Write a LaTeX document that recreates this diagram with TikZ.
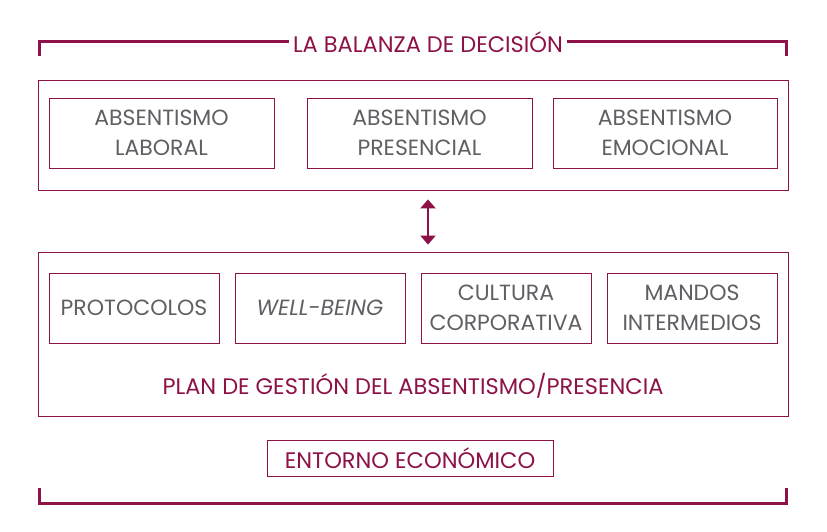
\documentclass[tikz,border=0pt]{standalone}
\usepackage{fontspec}
\setmainfont{Poppins}
\usetikzlibrary{
  arrows.meta,   % Triangle 箭头
  positioning    % 节点相对定位
}
\definecolor{granate}{RGB}{140,18,72}
\definecolor{grisTexto}{RGB}{95,95,100}
\tikzset{
  outer box/.style={
    draw=granate,
    line width=0.8pt,
    inner sep=0pt
  },
  inner box/.style={
    draw=granate,
    line width=0.8pt,
    text=grisTexto,
    align=center,
    font=\fontsize{22}{30}\selectfont,
    minimum height=70pt,
    inner sep=0pt
  },
  title text/.style={
    text=granate,
    font=\fontsize{22.5}{26}\selectfont,
    inner sep=4pt
  },
  bracket/.style={
    draw=granate,
    line width=3pt
  },
  double arrow/.style={
    {Triangle[length=9pt,width=15pt]}-{Triangle[length=9pt,width=15pt]},
    line width=2pt,
    draw=granate
  }
}

\begin{document}
\begin{tikzpicture}[x=1pt, y=-1pt]
    % 画布尺寸与参考图一致
    \useasboundingbox (0,0) rectangle (827,532);

    % --- 上方括号与标题 ---
    \node[title text] (titulo) at (428,42) {LA BALANZA DE DECISIÓN};
    \coordinate (bracketTL) at (39,56);
    \coordinate (bracketTR) at (786,56);
    \draw[bracket] (bracketTL) |- (titulo.west);
    \draw[bracket] (titulo.east) -| (bracketTR);

    % --- 上方大框: 三种缺勤 ---
    \node[outer box, minimum width=750pt, minimum height=110pt] (balanza) at (413,135) {};
    \node[inner box, minimum width=225pt] (laboral) at (161.5,133) {ABSENTISMO\\LABORAL};
    \node[inner box, minimum width=225pt] (presencial) at (419.5,133) {ABSENTISMO\\PRESENCIAL};
    \node[inner box, minimum width=224pt] (emocional) at (665,133) {ABSENTISMO\\EMOCIONAL};

    % --- 下方大框: 管理计划 ---
    \node[outer box, minimum width=750pt, minimum height=164pt] (plan) at (413,334) {};
    \node[inner box, minimum width=170pt] (protocolos) at (134,308) {PROTOCOLOS};
    \node[inner box, minimum width=170pt] (wellbeing) at (320,308) {\itshape WELL-BEING};
    \node[inner box, minimum width=170pt] (cultura) at (506,308) {CULTURA\\CORPORATIVA};
    \node[inner box, minimum width=170pt] (mandos) at (692,308) {MANDOS\\INTERMEDIOS};
    \node[title text, inner sep=0pt] (planTexto) at (413,386) {PLAN DE GESTIÓN DEL ABSENTISMO/PRESENCIA};

    % 双向箭头
    \draw[double arrow, shorten <=9pt, shorten >=7pt] (balanza.south -| 428,0) -- (plan.north -| 428,0);

    % --- 经济环境 ---
    \node[outer box, title text, minimum width=286pt, minimum height=36pt] (entorno) at (410,458) {ENTORNO ECONÓMICO};

    % --- 下方括号 ---
    \coordinate (bracketBL) at (39,488);
    \coordinate (bracketBR) at (786,488);
    \draw[bracket] (bracketBL) -- ++(0,15) -| (bracketBR);

  \end{tikzpicture}
\end{document}
